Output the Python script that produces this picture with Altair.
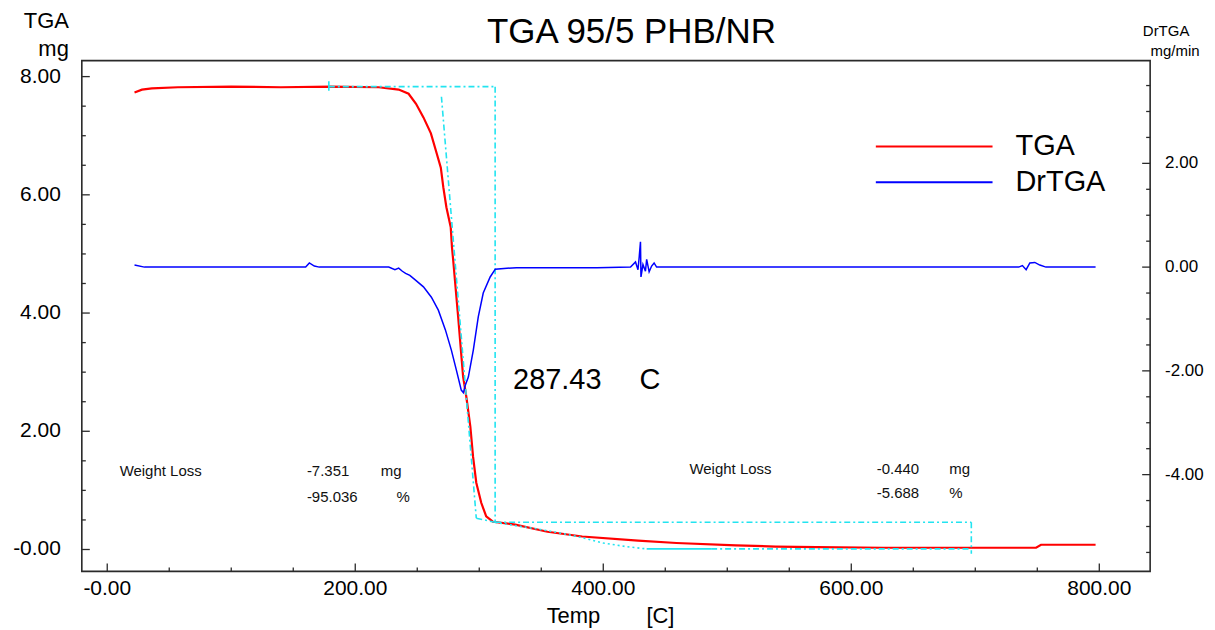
import altair as alt
import pandas as pd

# ---------------- data ----------------
tga_temp = [22, 28, 36, 57, 100, 140, 180, 219, 235, 243, 249, 255, 261, 265, 269, 271,
            273.5, 277, 278, 279, 283, 287, 289.6, 292.8, 295, 297.6, 301.6, 305.6, 311,
            329, 355, 383, 428, 459, 507, 539, 572, 626, 749, 753, 797]
tga_mg = [7.73, 7.78, 7.80, 7.82, 7.83, 7.82, 7.83, 7.82, 7.78, 7.71, 7.54, 7.31, 7.04, 6.75, 6.46, 6.13,
          5.79, 5.45, 5.11, 4.89, 3.93, 2.92, 2.58, 2.08, 1.57, 1.13, 0.79, 0.56, 0.47,
          0.42, 0.30, 0.22, 0.15, 0.11, 0.07, 0.05, 0.04, 0.03, 0.03, 0.08, 0.08]

dr_temp = [22, 30, 74, 120, 160, 163, 167, 171, 227, 232, 235, 238, 240.6, 244, 248.6, 255,
           261.4, 267, 272.7, 277.5, 281.5, 285.5, 287.2, 288.8, 291.2, 295.2, 299.2, 303.2,
           308.8, 312.9, 330, 395, 422, 426, 428, 429, 430, 430.4, 432, 434, 435, 437, 439,
           441, 443, 500, 600, 700, 735, 738, 741, 744, 748, 752, 757, 797]
dr_val = [0.04, 0.0, 0.0, 0.0, 0.0, 0.08, 0.02, 0.0, 0.0, -0.05, -0.02, -0.08, -0.12, -0.16, -0.25, -0.38,
          -0.58, -0.83, -1.21, -1.60, -1.98, -2.37, -2.42, -2.27, -2.12, -1.60, -0.96, -0.50,
          -0.19, -0.04, -0.01, -0.01, 0.0, 0.10, -0.05, 0.20, 0.49, -0.19, 0.05, -0.08, 0.15, -0.09, 0.02,
          0.08, 0.0, 0.0, 0.0, 0.0, 0.0, 0.03, -0.05, 0.08, 0.09, 0.04, 0.0, 0.0]

# cyan step-construction segments (left axis units)
seg_x = [178.7, 312.8, 269.5, 297.6, 312.8, 696.8, 487.0]
seg_y = [7.83, 7.83, 7.66, 0.53, 0.46, 0.46, 0.01]
seg_x2 = [312.8, 312.8, 297.6, 312.8, 696.8, 696.8, 696.8]
seg_y2 = [7.83, 0.46, 0.53, 0.46, 0.46, -0.07, 0.01]
solid_x = [178.7, 435.0]
solid_y = [7.92, 0.01]
solid_x2 = [178.7, 487.0]
solid_y2 = [7.76, 0.01]
curve_x = [312.8, 330, 346, 365, 383, 400, 418, 435]
curve_y = [0.46, 0.40, 0.35, 0.28, 0.20, 0.11, 0.05, 0.01]

# annotations
big_text = ["287.43", "C"]
big_x = [327.3, 429.3]
big_y = [2.87, 2.87]
small_text = ["Weight Loss", "-7.351", "mg", "-95.036", "%",
              "Weight Loss", "-0.440", "mg", "-5.688", "%"]
small_x = [10.0, 161.0, 220.5, 161.0, 233.3, 469.5, 620.5, 679.0, 620.5, 679.0]
small_y = [1.32, 1.32, 1.32, 0.895, 0.895, 1.37, 1.37, 1.37, 0.96, 0.96]

# axes: tick values and labels
x_major = [0, 200, 400, 600, 800]
x_labels = ["-0.00", "200.00", "400.00", "600.00", "800.00"]
x_minor = [50, 100, 150, 250, 300, 350, 450, 500, 550, 650, 700, 750]
yl_major = [0, 2, 4, 6, 8]
yl_labels = ["-0.00", "2.00", "4.00", "6.00", "8.00"]
yl_minor = [0.5, 1, 1.5, 2.5, 3, 3.5, 4.5, 5, 5.5, 6.5, 7, 7.5]
yr_major = [-4, -2, 0, 2]
yr_labels = ["-4.00", "-2.00", "0.00", "2.00"]
yr_minor = [-5.5, -5, -4.5, -3.5, -3, -2.5, -1.5, -1, -0.5, 0.5, 1, 1.5, 2.5, 3, 3.5]

TITLE = "TGA 95/5 PHB/NR"

# ---------------- chart ----------------
W, H = 1071, 512
FONT = "Liberation Sans"
FRAME = "#2a2a2a"
CYAN = "#22E4F0"

x_scale = alt.Scale(domain=[-20.5, 841], nice=False, zero=False)
yl_scale = alt.Scale(domain=[-0.37, 8.27], nice=False, zero=False)
yr_scale = alt.Scale(domain=[-5.865, 3.98], nice=False, zero=False)

tga_df = pd.DataFrame({"temp": tga_temp, "val": tga_mg, "series": "TGA"})
dr_df = pd.DataFrame({"temp": dr_temp, "val": dr_val, "series": "DrTGA"})
seg_df = pd.DataFrame({"x": seg_x, "y": seg_y, "x2": seg_x2, "y2": seg_y2})
solid_df = pd.DataFrame({"x": solid_x, "y": solid_y, "x2": solid_x2, "y2": solid_y2})
curve_df = pd.DataFrame({"x": curve_x, "y": curve_y})
big_df = pd.DataFrame({"x": big_x, "y": big_y, "t": big_text})
small_df = pd.DataFrame({"x": small_x, "y": small_y, "t": small_text})


def legend_for(y_offset):
    return alt.Legend(orient="none", legendX=795, legendY=y_offset, title=None,
                      symbolType="stroke", symbolSize=13689, symbolStrokeWidth=2,
                      labelFont=FONT, labelFontSize=29, labelColor="black",
                      labelOffset=22, padding=0)


red = alt.Chart(tga_df).mark_line(strokeWidth=2.2).encode(
    x=alt.X("temp:Q", scale=x_scale, axis=None),
    y=alt.Y("val:Q", scale=yl_scale, axis=None),
    color=alt.Color("series:N", scale=alt.Scale(domain=["TGA"], range=["#ff0000"]),
                    legend=legend_for(26.5)),
)

cyan_dash = alt.Chart(seg_df).mark_rule(color=CYAN, strokeWidth=1.6, strokeDash=[6, 3, 2, 3]).encode(
    x=alt.X("x:Q", scale=x_scale, axis=None), x2="x2:Q",
    y=alt.Y("y:Q", scale=yl_scale, axis=None), y2="y2:Q",
)
cyan_solid = alt.Chart(solid_df).mark_rule(color=CYAN, strokeWidth=1.6).encode(
    x=alt.X("x:Q", scale=x_scale, axis=None), x2="x2:Q",
    y=alt.Y("y:Q", scale=yl_scale, axis=None), y2="y2:Q",
)
cyan_curve = alt.Chart(curve_df).mark_line(color=CYAN, strokeWidth=1.6, strokeDash=[2, 3]).encode(
    x=alt.X("x:Q", scale=x_scale, axis=None),
    y=alt.Y("y:Q", scale=yl_scale, axis=None),
)

big_txt = alt.Chart(big_df).mark_text(align="left", baseline="middle", font=FONT, fontSize=29,
                                      color="black").encode(
    x=alt.X("x:Q", scale=x_scale, axis=None),
    y=alt.Y("y:Q", scale=yl_scale, axis=None), text="t:N")
small_txt = alt.Chart(small_df).mark_text(align="left", baseline="middle", font=FONT, fontSize=15,
                                          color="#111111").encode(
    x=alt.X("x:Q", scale=x_scale, axis=None),
    y=alt.Y("y:Q", scale=yl_scale, axis=None), text="t:N")


def yticks(vals, scale, x0, x1):
    return alt.Chart(pd.DataFrame({"v": vals})).mark_rule(color=FRAME, strokeWidth=1.3).encode(
        y=alt.Y("v:Q", scale=scale, axis=None), x=alt.value(x0), x2=alt.value(x1))


def xticks(vals, length):
    return alt.Chart(pd.DataFrame({"v": vals})).mark_rule(color=FRAME, strokeWidth=1.3).encode(
        x=alt.X("v:Q", scale=x_scale, axis=None), y=alt.value(H), y2=alt.value(H - length))


def ylabels(vals, labels, scale, xpos, align, size):
    return alt.Chart(pd.DataFrame({"v": vals, "t": labels})).mark_text(
        align=align, baseline="middle", font=FONT, fontSize=size, color="black").encode(
        y=alt.Y("v:Q", scale=scale, axis=None), x=alt.value(xpos), text="t:N")


def fixed_text(txt, xpos, ypos, size, align="left", baseline="alphabetic"):
    return alt.Chart(pd.DataFrame({"a": [0]})).mark_text(
        text=txt, align=align, baseline=baseline, font=FONT, fontSize=size, color="black").encode(
        x=alt.value(xpos), y=alt.value(ypos))


x_lab = alt.Chart(pd.DataFrame({"v": x_major, "t": x_labels})).mark_text(
    align="center", baseline="middle", font=FONT, fontSize=21, color="black").encode(
    x=alt.X("v:Q", scale=x_scale, axis=None), y=alt.value(H + 18), text="t:N")

left_group = alt.layer(
    red, cyan_dash, cyan_solid, cyan_curve, big_txt, small_txt,
    yticks(yl_major, yl_scale, 0, 8), yticks(yl_minor, yl_scale, 0, 4),
    xticks(x_major, 8), xticks(x_minor, 4),
    ylabels(yl_major, yl_labels, yl_scale, -21, "right", 21),
    x_lab,
    fixed_text("TGA", -13, -33, 22, align="right"),
    fixed_text("mg", -13, -5, 22, align="right"),
    fixed_text("Temp", 466, H + 45, 22, baseline="middle"),
    fixed_text("[C]", 566, H + 45, 22, baseline="middle"),
    fixed_text(TITLE, 551, -18, 35, align="center"),
)

blue = alt.Chart(dr_df).mark_line(strokeWidth=1.5).encode(
    x=alt.X("temp:Q", scale=x_scale, axis=None),
    y=alt.Y("val:Q", scale=yr_scale, axis=None),
    color=alt.Color("series:N", scale=alt.Scale(domain=["DrTGA"], range=["#0000ff"]),
                    legend=legend_for(62.5)),
)
right_group = alt.layer(
    blue, yticks(yr_major, yr_scale, W, W - 8), yticks(yr_minor, yr_scale, W, W - 4),
    ylabels(yr_major, yr_labels, yr_scale, W + 15, "left", 17),
    fixed_text("DrTGA", W + 16, -25, 15, align="center"),
    fixed_text("mg/min", W + 25, -5, 15, align="center"),
)

chart = alt.layer(left_group, right_group).resolve_scale(
    y="independent", color="independent"
).properties(
    width=W, height=H,
    autosize=alt.AutoSizeParams(type="none"),
    padding={"left": 74, "top": 52, "right": 57, "bottom": 58},
).configure_view(stroke=FRAME, strokeWidth=1.6)

chart.save("out.html", embed_options={"renderer": "svg", "actions": False})
